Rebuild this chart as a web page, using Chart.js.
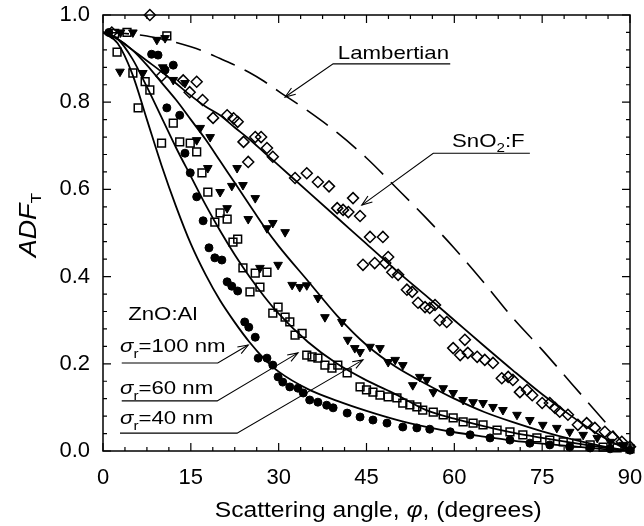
<!DOCTYPE html>
<html>
<head>
<meta charset="utf-8">
<script src="https://cdn.jsdelivr.net/npm/chart.js@4.4.1/dist/chart.umd.min.js"></script>
<style>
  html, body { margin: 0; padding: 0; background: #fff; }
</style>
</head>
<body>
<canvas id="chart" width="644" height="526"></canvas>
<script>
// tick labels
const xTicks = [0, 15, 30, 45, 60, 75, 90];
const yTicks = [0.0, 0.2, 0.4, 0.6, 0.8, 1.0];

const curveAngles = [0, 2.5, 5, 7.5, 10, 12.5, 15, 17.5, 20, 22.5, 25, 27.5, 30, 35, 40, 45, 50, 55, 60, 65, 70, 75, 80, 85, 90];
const lambertian = [0.96, 0.959, 0.956, 0.952, 0.945, 0.937, 0.927, 0.915, 0.9, 0.885, 0.868, 0.848, 0.825, 0.78, 0.73, 0.672, 0.605, 0.537, 0.465, 0.387, 0.305, 0.232, 0.155, 0.078, 0.0];
const sno2Fit = [0.96, 0.945, 0.92, 0.895, 0.87, 0.843, 0.815, 0.79, 0.77, 0.742, 0.715, 0.685, 0.655, 0.595, 0.535, 0.475, 0.415, 0.358, 0.30, 0.242, 0.185, 0.13, 0.08, 0.035, 0.0];
const fit40 = [0.96, 0.945, 0.92, 0.885, 0.845, 0.805, 0.76, 0.715, 0.665, 0.615, 0.565, 0.515, 0.47, 0.39, 0.31, 0.243, 0.193, 0.155, 0.12, 0.09, 0.066, 0.045, 0.027, 0.012, 0.0];
const fit60 = [0.96, 0.945, 0.9, 0.835, 0.765, 0.695, 0.63, 0.565, 0.505, 0.45, 0.40, 0.355, 0.315, 0.25, 0.2, 0.162, 0.13, 0.095, 0.074, 0.057, 0.042, 0.03, 0.019, 0.009, 0.0];
const fit100 = [0.96, 0.935, 0.865, 0.76, 0.655, 0.56, 0.475, 0.405, 0.345, 0.295, 0.25, 0.212, 0.182, 0.142, 0.115, 0.092, 0.072, 0.056, 0.043, 0.033, 0.024, 0.017, 0.011, 0.005, 0.0];

// measured points [angle, ADF]
const sno2Points = [[1.5,0.96],[8.0,1.0],[10.0,0.86],[13.7,0.85],[16.0,0.847],[14.8,0.823],[17.0,0.805],[18.8,0.764],[21.2,0.77],[22.3,0.763],[23.0,0.755],[24.0,0.709],[26.0,0.72],[27.0,0.72],[28.0,0.695],[29.0,0.675],[24.8,0.663],[32.8,0.626],[34.8,0.637],[36.7,0.617],[38.6,0.607],[42.7,0.58],[40.0,0.557],[41.0,0.553],[41.9,0.548],[43.9,0.539],[45.6,0.491],[47.8,0.491],[48.7,0.445],[44.4,0.427],[46.4,0.431],[48.2,0.431],[49.4,0.41],[50.4,0.404],[51.9,0.37],[52.8,0.365],[53.8,0.34],[55.0,0.33],[55.8,0.328],[56.7,0.335],[57.5,0.30],[58.7,0.296],[61.8,0.255],[59.8,0.236],[61.0,0.22],[62.3,0.225],[63.9,0.216],[65.2,0.209],[66.6,0.202],[68.1,0.167],[69.2,0.17],[70.0,0.163],[71.2,0.135],[72.4,0.14],[73.3,0.128],[75.0,0.11],[76.3,0.11],[77.2,0.099],[78.0,0.09],[79.4,0.083],[81.1,0.06],[82.6,0.064],[84.0,0.053],[85.7,0.044],[87.0,0.032],[88.6,0.021],[90.0,0.01]];
const points40 = [[3.0,0.96],[5.1,0.96],[2.9,0.87],[6.8,0.867],[9.2,0.943],[10.6,0.947],[10.2,0.88],[12.0,0.851],[14.0,0.844],[16.6,0.741],[16.0,0.713],[18.3,0.72],[17.9,0.649],[20.0,0.594],[22.0,0.608],[22.9,0.649],[23.9,0.61],[26.0,0.58],[24.8,0.532],[21.2,0.557],[28.0,0.511],[29.0,0.523],[31.1,0.502],[29.9,0.427],[26.8,0.42],[32.3,0.381],[33.6,0.376],[34.8,0.38],[36.7,0.351],[37.9,0.307],[40.8,0.296],[41.8,0.255],[43.0,0.236],[43.9,0.227],[45.6,0.239],[47.3,0.236],[48.7,0.204],[49.9,0.209],[51.2,0.197],[52.9,0.151],[54.1,0.17],[55.3,0.163],[56.4,0.135],[58.1,0.144],[59.8,0.133],[61.5,0.117],[63.2,0.112],[64.9,0.11],[66.6,0.101],[68.3,0.094],[70.7,0.083],[72.9,0.071],[75.1,0.06],[77.5,0.053],[79.7,0.044],[82.0,0.037],[84.4,0.03],[86.6,0.021],[88.8,0.014]];
const points60 = [[2.0,0.958],[4.1,0.96],[2.4,0.915],[5.1,0.867],[7.2,0.847],[8.0,0.828],[6.0,0.787],[10.9,0.952],[12.0,0.752],[10.0,0.706],[13.1,0.709],[14.9,0.706],[16.0,0.686],[16.9,0.638],[17.9,0.594],[20.0,0.546],[19.1,0.525],[21.2,0.532],[22.2,0.479],[23.0,0.486],[23.9,0.42],[26.0,0.408],[28.0,0.41],[26.8,0.376],[25.1,0.365],[29.0,0.316],[29.9,0.33],[31.1,0.307],[31.9,0.296],[32.8,0.266],[34.0,0.27],[34.8,0.22],[35.7,0.216],[36.7,0.213],[37.9,0.197],[39.1,0.19],[40.1,0.197],[41.7,0.179],[43.9,0.147],[45.0,0.14],[46.1,0.135],[47.3,0.128],[48.7,0.124],[50.2,0.122],[51.2,0.11],[52.4,0.106],[53.6,0.101],[54.6,0.094],[56.4,0.089],[58.1,0.083],[59.8,0.076],[61.5,0.067],[63.2,0.064],[64.9,0.06],[67.3,0.048],[69.5,0.044],[71.7,0.037],[74.1,0.03],[76.3,0.025],[78.6,0.021],[80.9,0.018],[83.2,0.014],[85.4,0.009],[87.8,0.007],[90.0,0.005]];
const points100 = [[1.0,0.96],[8.3,0.91],[9.4,0.908],[12.0,0.885],[10.6,0.874],[10.9,0.787],[13.1,0.77],[14.0,0.683],[14.9,0.638],[16.0,0.583],[17.1,0.528],[18.1,0.466],[19.1,0.443],[20.3,0.438],[21.2,0.388],[22.0,0.378],[23.0,0.367],[24.2,0.296],[24.9,0.284],[26.0,0.261],[26.5,0.213],[28.0,0.213],[29.0,0.197],[29.9,0.17],[30.7,0.158],[31.9,0.147],[33.3,0.144],[34.2,0.133],[35.3,0.117],[36.7,0.112],[38.2,0.105],[39.3,0.099],[41.7,0.087],[43.9,0.078],[46.1,0.071],[48.5,0.064],[51.2,0.055],[53.6,0.053],[55.8,0.05],[59.3,0.044],[62.7,0.037],[66.1,0.03],[69.5,0.025],[72.9,0.018],[76.3,0.014],[79.7,0.009],[83.2,0.007],[86.6,0.005],[90.0,0.002]];

const FONT = '"Liberation Sans", Arial, sans-serif';
const STRETCH = 1.17; // the printed lettering is a bit wider than Arial

function curve(values, dash) {
  return {
    type: 'line',
    data: curveAngles.map((a, i) => ({ x: a, y: values[i] })),
    borderColor: '#000',
    borderWidth: dash ? 1.6 : 1.8,
    borderDash: dash || [],
    pointRadius: 0,
    cubicInterpolationMode: 'monotone',
    fill: false
  };
}

function marks(pts, style, radius, filled, rotation) {
  return {
    type: 'scatter',
    data: pts.map(p => ({ x: p[0], y: p[1] })),
    pointStyle: style,
    pointRadius: radius,
    pointRotation: rotation || 0,
    borderColor: '#000',
    borderWidth: filled ? 1 : 1.5,
    backgroundColor: filled ? '#000' : 'rgba(0,0,0,0)',
    clip: false
  };
}

// draws a run of [text, font, dy] pieces, stretched sideways; returns width
function runText(ctx, pieces, x, y, stretch) {
  let w = 0;
  pieces.forEach(p => { ctx.font = p[1]; w += ctx.measureText(p[0]).width; });
  ctx.save();
  ctx.translate(x, y);
  ctx.scale(stretch, 1);
  let cx = 0;
  pieces.forEach(p => {
    ctx.font = p[1];
    ctx.fillText(p[0], cx, p[2] || 0);
    cx += ctx.measureText(p[0]).width;
  });
  ctx.restore();
  return w * stretch;
}

function noPad(s) {
  s.paddingTop = 0; s.paddingBottom = 0; s.paddingLeft = 0; s.paddingRight = 0;
}

// frame, inward ticks, annotations and axis titles
const decorations = {
  id: 'decorations',
  afterDatasetsDraw(chart) {
    const ctx = chart.ctx;
    const xs = chart.scales.x, ys = chart.scales.y;
    const a = chart.chartArea;
    const px = v => xs.getPixelForValue(v);
    const py = v => ys.getPixelForValue(v);
    ctx.save();
    ctx.strokeStyle = '#000';
    ctx.fillStyle = '#000';
    ctx.lineWidth = 1.5;
    ctx.strokeRect(a.left, a.top, a.right - a.left, a.bottom - a.top);

    ctx.lineWidth = 1.2;
    ctx.beginPath();
    for (let i = 0; i <= 24; i++) {
      const x = px(i * 3.75);
      const len = i % 4 === 0 ? 8 : 4;
      ctx.moveTo(x, a.bottom); ctx.lineTo(x, a.bottom - len);
      ctx.moveTo(x, a.top); ctx.lineTo(x, a.top + len);
    }
    for (let i = 0; i <= 25; i++) {
      const y = py(i * 0.04);
      const len = i % 5 === 0 ? 8 : 4;
      ctx.moveTo(a.left, y); ctx.lineTo(a.left + len, y);
      ctx.moveTo(a.right, y); ctx.lineTo(a.right - len, y);
    }
    ctx.stroke();

    // leader lines with open arrow heads
    function leader(pts) {
      ctx.lineWidth = 1.1;
      ctx.beginPath();
      ctx.moveTo(px(pts[0][0]), py(pts[0][1]));
      for (let i = 1; i < pts.length; i++) ctx.lineTo(px(pts[i][0]), py(pts[i][1]));
      ctx.stroke();
      const n = pts.length;
      const x1 = px(pts[n - 1][0]), y1 = py(pts[n - 1][1]);
      const x0 = px(pts[n - 2][0]), y0 = py(pts[n - 2][1]);
      const ang = Math.atan2(y1 - y0, x1 - x0);
      ctx.beginPath();
      ctx.moveTo(x1 - 11 * Math.cos(ang - 0.35), y1 - 11 * Math.sin(ang - 0.35));
      ctx.lineTo(x1, y1);
      ctx.lineTo(x1 - 11 * Math.cos(ang + 0.35), y1 - 11 * Math.sin(ang + 0.35));
      ctx.stroke();
    }
    leader([[59.3, 0.888], [39.3, 0.888], [31.1, 0.812]]);
    leader([[72.9, 0.683], [56.4, 0.683], [44.2, 0.564]]);
    leader([[3.2, 0.202], [19.6, 0.202], [24.8, 0.243]]);
    leader([[3.2, 0.115], [19.5, 0.115], [33.3, 0.225]]);
    leader([[2.9, 0.041], [22.9, 0.041], [44.4, 0.209]]);

    ctx.textBaseline = 'alphabetic';
    ctx.textAlign = 'left';
    const f19 = '19px ' + FONT, f13 = '13px ' + FONT, i19 = 'italic 19px ' + FONT;
    runText(ctx, [['Lambertian', f19]], px(40.1), py(0.9), STRETCH);
    runText(ctx, [['ZnO:Al', f19]], px(4.3), py(0.30), STRETCH);
    runText(ctx, [['SnO', f19], ['2', f13, 5], [':F', f19]], px(59.6), py(0.697), STRETCH);
    [['=100 nm', 0.227], ['=60 nm', 0.131], ['=40 nm', 0.062]].forEach(s => {
      runText(ctx, [['\u03C3', i19], ['r', f13, 6], [s[0], f19]], px(2.9), py(s[1]), STRETCH);
    });

    // x title, measured first so it can be centred a little right of the plot middle
    const f22 = '22px ' + FONT, i22 = 'italic 22px ' + FONT;
    const xParts = [['Scattering angle, ', f22], ['\u03C6', i22], [', (degrees)', f22]];
    let w = 0;
    xParts.forEach(p => { ctx.font = p[1]; w += ctx.measureText(p[0]).width; });
    w *= 1.12;
    runText(ctx, xParts, px(47) - w / 2, 517, 1.12);

    // y title
    ctx.translate(36, 225);
    ctx.rotate(-Math.PI / 2);
    const yParts = [['ADF', 'italic 23px ' + FONT], ['T', '15px ' + FONT, 5]];
    w = 0;
    yParts.forEach(p => { ctx.font = p[1]; w += ctx.measureText(p[0]).width; });
    w *= STRETCH;
    runText(ctx, yParts, -w / 2, 0, STRETCH);
    ctx.restore();
  }
};

new Chart(document.getElementById('chart'), {
  data: {
    datasets: [
      curve(lambertian, [26, 11]),
      curve(sno2Fit),
      curve(fit40),
      curve(fit60),
      curve(fit100),
      marks(sno2Points, 'rectRot', 5.5, false),
      marks(points60, 'rect', 5.5, false),
      marks(points40, 'triangle', 5, true, 180),
      marks(points100, 'circle', 4, true)
    ]
  },
  options: {
    responsive: false,
    devicePixelRatio: 1,
    animation: false,
    layout: { padding: { top: 15, right: 14, left: 0, bottom: 0 } },
    plugins: { legend: { display: false }, tooltip: { enabled: false } },
    scales: {
      x: {
        type: 'linear', min: 0, max: 90,
        afterFit: s => { s.height = 75; noPad(s); },
        afterBuildTicks: s => { s.ticks = xTicks.map(v => ({ value: v })); },
        ticks: { color: '#000', font: { size: 22, family: FONT }, padding: 14, maxRotation: 0 },
        grid: { display: false, drawTicks: false },
        border: { display: false }
      },
      y: {
        type: 'linear', min: 0, max: 1,
        afterFit: s => { s.width = 103; noPad(s); },
        afterBuildTicks: s => { s.ticks = yTicks.map(v => ({ value: v })); },
        ticks: { color: '#000', font: { size: 22, family: FONT }, padding: 13, callback: v => v.toFixed(1) },
        grid: { display: false, drawTicks: false },
        border: { display: false }
      }
    }
  },
  plugins: [decorations]
});
</script>
</body>
</html>
